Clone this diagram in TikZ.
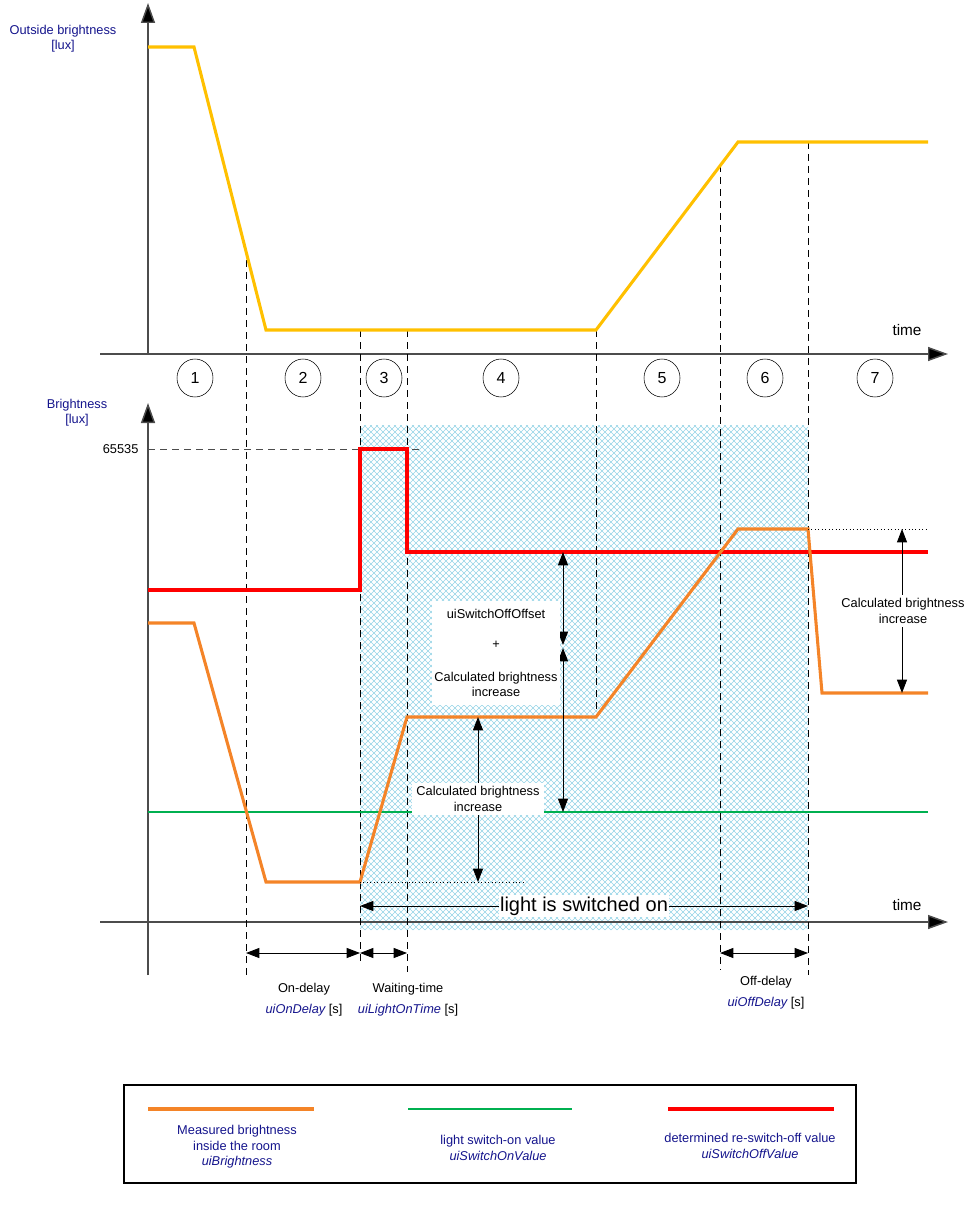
\documentclass[tikz,border=0pt]{standalone}
\usepackage{fontspec}
\setmainfont{Liberation Sans}
\usepackage{xcolor}
\usetikzlibrary{arrows.meta,shapes.geometric}

\definecolor{outside}{RGB}{255,192,0}
\definecolor{measured}{RGB}{244,132,40}
\definecolor{switchon}{RGB}{0,176,80}
\definecolor{switchoff}{RGB}{255,0,0}
\definecolor{labelblue}{RGB}{20,20,140}
\definecolor{hatch}{RGB}{150,212,230}

\tikzset{
  axis/.style={draw=black!70, line width=1.1pt, -{Triangle[length=15pt,width=10.5pt,fill=black]}},
  timeline/.style={dashed, dash pattern=on 5.5pt off 3.5pt, line width=0.7pt},
  dim/.style={line width=0.7pt, {Triangle[length=10pt,width=7.5pt]}-{Triangle[length=10pt,width=7.5pt]}},
  curve/.style={line width=2.3pt, line join=miter},
  hatchline/.style={draw=hatch, line width=0.45pt},
  lbl/.style={font=\fontsize{9.6}{11.5}\selectfont, align=center, inner sep=1pt},
  phase/.style={draw, ellipse, minimum width=27pt, minimum height=28.5pt, inner sep=0pt, font=\fontsize{12}{14}\selectfont},
}

\begin{document}
\begin{tikzpicture}[x=0.75pt, y=-0.75pt]
  \useasboundingbox (0,0) rectangle (978,1205);

  % hatched area while the light is on
  \begin{scope}
    \clip (360,425) rectangle (808,930);
    \foreach \s in {0,6,...,960}
      {\draw[hatchline] (360+\s,425) -- ++(-505,505);
       \draw[hatchline] (808-\s,425) -- ++(505,505);}
  \end{scope}

  % axes
  \draw[axis] (148,354) -- (148,3);
  \draw[axis] (100,354) -- (948,354);
  \draw[axis] (148,975) -- (148,403);
  \draw[axis] (100,922) -- (948,922);
  \node[lbl, text=labelblue] (ytop) at (63,39) {Outside brightness\\\relax [lux]};
  \node[lbl, text=labelblue] (ybot) at (77,413) {Brightness\\\relax [lux]};
  \node[font=\fontsize{11.5}{13}\selectfont] (ttop) at (907,330) {time};
  \node[font=\fontsize{11.5}{13}\selectfont] (tbot) at (907,905) {time};
  \node[lbl, anchor=east] (max) at (140,449) {65535};
  \draw[dashed, dash pattern=on 5.5pt off 3.5pt, black!70, line width=0.7pt] (max.east) ++(8,0) -- (420,449);

  % time marks
  \foreach \t/\a/\b in {246/248/975, 360/330/962, 407/330/972, 596/330/717, 720/165/970, 808/142/975}
    {\draw[timeline] (\t,\a) -- (\t,\b);}

  % phases
  \foreach \x/\n in {195/1, 303/2, 384/3, 501/4, 662/5, 765/6, 875/7}
    {\node[phase] (p\n) at (\x,378) {\n};}

  % curves
  \draw[curve, outside] (148,47) -- (194,47) -- (266,330) -- (596,330) -- (738,142) -- (928,142);
  \draw[line width=1.6pt, switchon] (148,812) -- (928,812);
  \draw[curve, switchoff] (148,590) -- (360,590) -- (360,449) -- (407,449) -- (407,552) -- (928,552);
  \draw[curve, measured] (148,623) -- (194,623) -- (266,882) -- (360,882) -- (407,717)
    -- (596,717) -- (738,529) -- (808,529) -- (822,693) -- (928,693);

  % helper lines
  \draw[dotted, line width=0.6pt] (360,882) -- (525,882);
  \draw[dotted, line width=0.6pt] (808,529) -- (928,529);

  % brightness increase
  \draw[dim] (478,882) -- (478,717);
  \node[lbl, fill=white, inner sep=3pt] (inc) at (478,799) {Calculated brightness\\increase};
  \draw[dim] (563,552) -- (563,645);
  \draw[dim] (563,648) -- (563,812);
  \node[lbl, fill=white, minimum width=96pt, minimum height=78pt] (offset) at (496,653)
    {uiSwitchOffOffset\\[11pt] +\\[13pt] Calculated brightness\\increase};
  \draw[dim] (902,529) -- (902,693);
  \node[lbl, fill=white, inner sep=3pt] (inc2) at (903,611) {Calculated brightness\\increase};

  % light on
  \draw[dim] (360,906) -- (808,906);
  \node[font=\fontsize{15}{17}\selectfont, fill=white, inner sep=1pt] (on) at (584,906) {light is switched on};

  % delays
  \draw[dim] (246,953) -- (360,953);
  \draw[dim] (360,953) -- (407,953);
  \draw[dim] (720,953) -- (808,953);
  \node[lbl] (ond) at (304,1000) {On-delay\\[4pt] {\color{labelblue}\itshape uiOnDelay} [s]};
  \node[lbl] (wait) at (408,1000) {Waiting-time\\[4pt] {\color{labelblue}\itshape uiLightOnTime} [s]};
  \node[lbl] (offd) at (766,993) {Off-delay\\[4pt] {\color{labelblue}\itshape uiOffDelay} [s]};

  % legend
  \draw[line width=1.5pt] (124,1085) rectangle (856,1183);
  \draw[line width=2.3pt, measured] (148,1109) -- (314,1109);
  \draw[line width=1.6pt, switchon] (408,1109) -- (572,1109);
  \draw[line width=2.3pt, switchoff] (668,1109) -- (834,1109);
  \node[lbl, text=labelblue] (leg1) at (237,1147) {Measured brightness\\inside the room\\\itshape uiBrightness};
  \node[lbl, text=labelblue] (leg2) at (498,1148) {light switch-on value\\\itshape uiSwitchOnValue};
  \node[lbl, text=labelblue] (leg3) at (750,1146) {determined re-switch-off value\\\itshape uiSwitchOffValue};
\end{tikzpicture}
\end{document}
